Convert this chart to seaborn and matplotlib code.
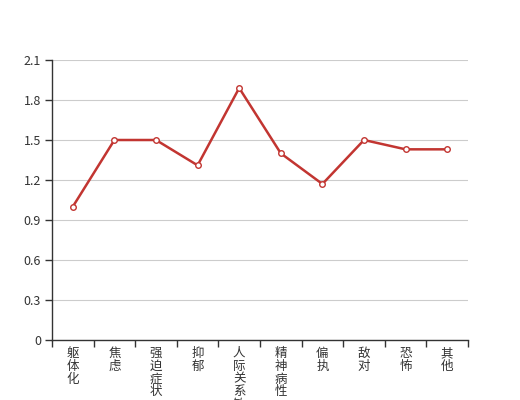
import pandas as pd
import matplotlib
matplotlib.use('Agg')
import matplotlib.pyplot as plt
import seaborn as sns
import numpy as np

# Data
categories = ['躯体化', '焦虑', '强迫症状', '抑郁', '人际关系敏感',
              '精神病性', '偏执', '敌对', '恐怖', '其他']
scores = [1.0, 1.5, 1.5, 1.31, 1.89, 1.40, 1.17, 1.5, 1.43, 1.43]
y_ticks = [0, 0.3, 0.6, 0.9, 1.2, 1.5, 1.8, 2.1]
y_tick_labels = ['0', '0.3', '0.6', '0.9', '1.2', '1.5', '1.8', '2.1']

df = pd.DataFrame({'factor': categories, 'score': scores})

sns.set_style('white')
plt.rcParams['font.family'] = ['Noto Sans CJK SC', 'DejaVu Sans']

fig = plt.figure(figsize=(5.2, 4), dpi=100)
ax = fig.add_axes([0.1, 0.15, 0.8, 0.7])

line_color = '#c23531'
sns.lineplot(data=df, x='factor', y='score', ax=ax, color=line_color,
             linewidth=1.8, marker='o', markersize=4,
             markerfacecolor='white', markeredgecolor=line_color,
             markeredgewidth=1, sort=False, zorder=3)

ax.set_xlim(-0.5, len(categories) - 0.5)
ax.set_ylim(0, 2.1)
ax.set_yticks(y_ticks)
ax.set_yticklabels(y_tick_labels)
ax.yaxis.grid(True, color='#cccccc', linewidth=0.8)
ax.set_axisbelow(True)

# vertical category labels, ticks on band boundaries
ax.set_xticks(range(len(categories)))
ax.set_xticklabels(['\n'.join(c) for c in categories], va='top',
                   linespacing=0.98)
ax.set_xticks(np.arange(-0.5, len(categories), 1), minor=True)
ax.tick_params(axis='x', which='major', length=0, pad=5,
               labelsize=9, labelcolor='#333333')
ax.tick_params(axis='x', which='minor', length=5, width=1,
               direction='out', color='#333333', bottom=True)
ax.tick_params(axis='y', length=5, width=1, direction='out', left=True,
               color='#333333', labelsize=9, labelcolor='#333333', pad=3)

for side in ['top', 'right']:
    ax.spines[side].set_visible(False)
for side in ['left', 'bottom']:
    ax.spines[side].set_color('#333333')
    ax.spines[side].set_linewidth(1)

ax.set_xlabel('')
ax.set_ylabel('')

fig.savefig('out.png', dpi=100)
